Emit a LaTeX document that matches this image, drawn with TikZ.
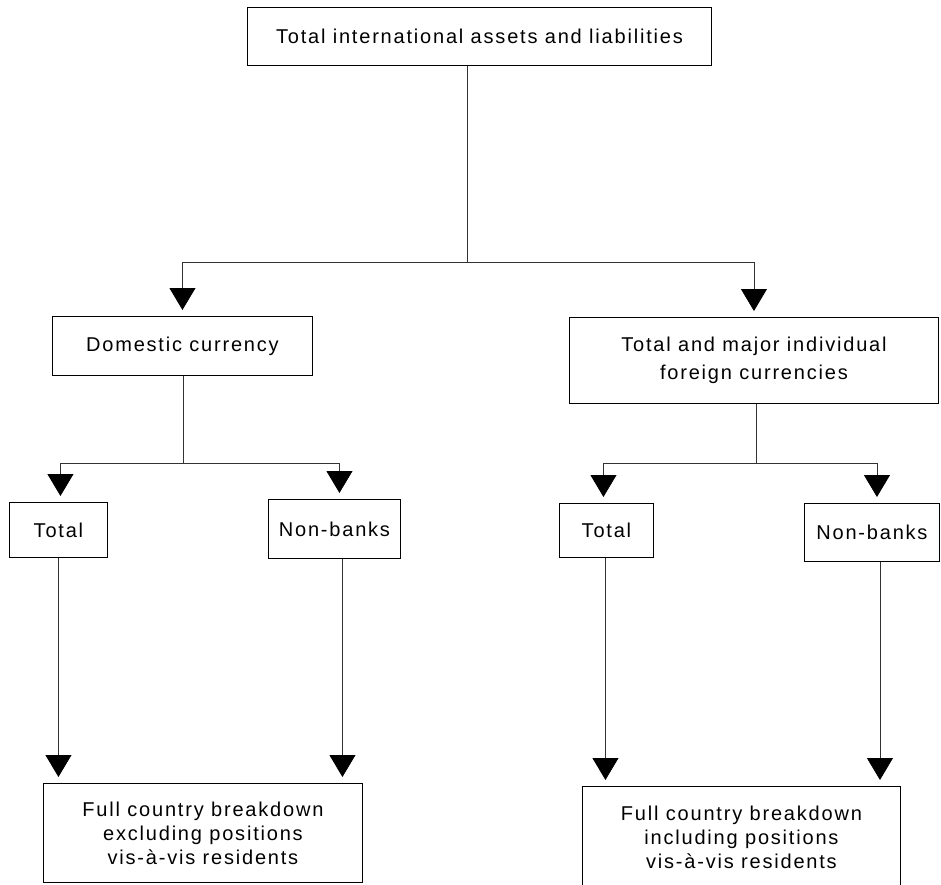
\documentclass[tikz,border=0pt]{standalone}
\usepackage{fontspec}
\setmainfont{Liberation Sans}[LetterSpace=9]
\usetikzlibrary{arrows.meta}
\begin{document}
\begin{tikzpicture}[x=1pt,y=-1pt,
  box/.style={draw=black, line width=0.9pt, anchor=north west, inner sep=0pt, align=center,
    font=\fontsize{20}{24}\selectfont},
  conn/.style={draw=black!80, line width=0.8pt},
  arr/.style={conn, -{Triangle[width=26pt,length=22pt,color=black,fill=black]}, shorten >=6pt}
]
\useasboundingbox (0,0) rectangle (941,884);
% boxes
\node[box, minimum width=464pt, minimum height=58pt] (top) at (247,7) {Total international assets and liabilities};
\node[box, minimum width=260pt, minimum height=59pt] (dom) at (52,316) {Domestic currency};
\node[box, minimum width=369pt, minimum height=86pt, font=\fontsize{20}{28}\selectfont] (forc) at (569,317) {Total and major individual\\foreign currencies};
\node[box, minimum width=98pt, minimum height=55pt] (tot1) at (9,502) {Total};
\node[box, minimum width=132pt, minimum height=59pt] (nb1) at (268,499) {Non-banks};
\node[box, minimum width=94pt, minimum height=54pt] (tot2) at (559,503) {Total};
\node[box, minimum width=135pt, minimum height=58pt] (nb2) at (804,503) {Non-banks};
\node[box, minimum width=319pt, minimum height=99pt] (bot1) at (43,783) {Full country breakdown\\excluding positions\\vis-à-vis residents};
\node[box, minimum width=318pt, minimum height=102pt] (bot2) at (582,786) {Full country breakdown\\including positions\\vis-à-vis residents};
% junctions
\coordinate (j1) at (467,262);
\coordinate (j2) at (183,463);
\coordinate (j3) at (756,463);
% top level
\draw[conn] (top.south -| j1) -- (j1);
\draw[arr] (j1) -| (dom.north);
\draw[arr] (j1) -| (forc.north);
% domestic
\draw[conn] (dom.south -| j2) -- (j2);
\draw[arr] (j2) -| ([xshift=2pt]tot1.north);
\draw[arr] (j2) -| ([xshift=5pt]nb1.north);
% foreign
\draw[conn] (forc.south -| j3) -- (j3);
\draw[arr] (j3) -| ([xshift=-3pt]tot2.north);
\draw[arr] (j3) -| ([xshift=5pt]nb2.north);
% down to breakdowns
\draw[arr] (tot1.south) -- (tot1.south |- bot1.north);
\draw[arr] ([xshift=8pt]nb1.south) -- ([xshift=8pt]nb1.south |- bot1.north);
\draw[arr] ([xshift=-1pt]tot2.south) -- ([xshift=-1pt]tot2.south |- bot2.north);
\draw[arr] ([xshift=8pt]nb2.south) -- ([xshift=8pt]nb2.south |- bot2.north);
\end{tikzpicture}
\end{document}
